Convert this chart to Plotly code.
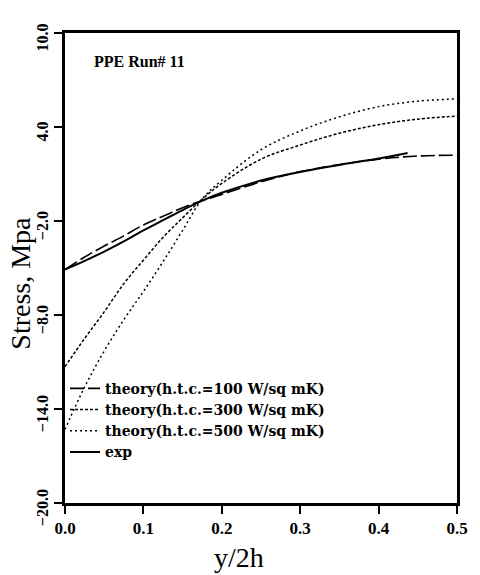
import plotly.graph_objects as go

# ---- data ----
x_grid = [0.0, 0.025, 0.05, 0.075, 0.1, 0.125, 0.15, 0.175, 0.2, 0.25, 0.3, 0.35, 0.4, 0.45, 0.5]
theory_100 = [-5.1, -4.3, -3.6, -2.95, -2.25, -1.7, -1.15, -0.7, -0.3, 0.5, 1.15, 1.6, 1.95, 2.15, 2.2]
theory_300 = [-11.3, -9.5, -7.8, -6.0, -4.5, -3.05, -1.8, -0.6, 0.4, 1.95, 2.85, 3.6, 4.15, 4.5, 4.7]
theory_500 = [-15.3, -12.6, -10.3, -8.3, -6.5, -4.6, -2.6, -0.6, 0.6, 2.55, 3.75, 4.65, 5.3, 5.65, 5.8]

x_exp = [0.0, 0.025, 0.05, 0.075, 0.1, 0.125, 0.15, 0.175, 0.2, 0.25, 0.3, 0.35, 0.4, 0.437]
exp_vals = [-5.1, -4.55, -3.95, -3.3, -2.6, -1.95, -1.3, -0.7, -0.2, 0.58, 1.13, 1.58, 1.99, 2.34]

names = ["theory(h.t.c.=100 W/sq mK)", "theory(h.t.c.=300 W/sq mK)",
         "theory(h.t.c.=500 W/sq mK)", "exp"]
x_ticks = [0.0, 0.1, 0.2, 0.3, 0.4, 0.5]
y_ticks = [-20, -14, -8, -2, 4, 10]

SERIF = "Liberation Serif"
WIDE_SERIF = "DejaVu Serif"

fig = go.Figure()
fig.add_trace(go.Scatter(x=x_grid, y=theory_100, mode="lines", name=names[0],
                         line=dict(color="black", width=1.6, dash="14px,4px"),
                         line_shape="spline"))
fig.add_trace(go.Scatter(x=x_grid, y=theory_300, mode="lines", name=names[1],
                         line=dict(color="black", width=1.5, dash="3px,2px"),
                         line_shape="spline"))
fig.add_trace(go.Scatter(x=x_grid, y=theory_500, mode="lines", name=names[2],
                         line=dict(color="black", width=1.5, dash="2px,3px"),
                         line_shape="spline"))
fig.add_trace(go.Scatter(x=x_exp, y=exp_vals, mode="lines", name=names[3],
                         line=dict(color="black", width=2),
                         line_shape="spline"))

fig.update_layout(
    width=480, height=575,
    margin=dict(l=65, r=17, t=33, b=72),
    paper_bgcolor="white", plot_bgcolor="white",
    font=dict(family=SERIF, color="black"),
    showlegend=True,
    legend=dict(x=0.0, y=0.277, xanchor="left", yanchor="top",
                bgcolor="rgba(0,0,0,0)", tracegroupgap=0,
                font=dict(family=WIDE_SERIF, size=14, weight="bold"),
                itemwidth=30),
    xaxis=dict(range=[0, 0.5], tickvals=x_ticks, tickformat=".1f",
               ticks="outside", ticklen=8, tickwidth=1.5, tickcolor="black",
               showline=True, linecolor="black", linewidth=2.5, mirror=True,
               showgrid=False, zeroline=False,
               tickfont=dict(family=SERIF, size=17, weight="bold")),
    yaxis=dict(range=[-20, 10], tickvals=y_ticks, tickformat=".1f", tickangle=-90,
               ticks="outside", ticklen=8, tickwidth=1.5, tickcolor="black",
               showline=True, linecolor="black", linewidth=2.5, mirror=True,
               showgrid=False, zeroline=False, ticklabelshift=7,
               tickfont=dict(family=SERIF, size=16, weight="bold")),
    annotations=[
        dict(text="PPE Run# 11", xref="paper", yref="paper", x=0.068, y=0.94,
             xanchor="left", yanchor="middle", showarrow=False,
             font=dict(family=SERIF, size=16, weight="bold")),
        dict(text="y/2h", xref="paper", yref="paper", x=(242 - 65) / 398, y=-0.117,
             xanchor="center", yanchor="middle", showarrow=False,
             font=dict(family=SERIF, size=28)),
        dict(text="Stress, Mpa", xref="paper", yref="paper", x=(19 - 65) / 398,
             y=(503 - 283) / 470, textangle=-90,
             xanchor="center", yanchor="middle", showarrow=False,
             font=dict(family=SERIF, size=28)),
    ],
)

fig.write_html("out.html")
